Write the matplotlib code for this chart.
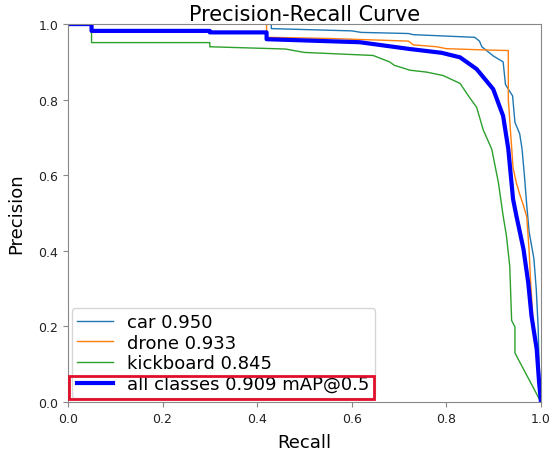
import matplotlib
matplotlib.use("Agg")
import matplotlib.pyplot as plt
from matplotlib.patches import Rectangle

# precision-recall points (recall, precision)
car_r = [0, 0.43, 0.43, 0.60, 0.62, 0.72, 0.73, 0.86, 0.87, 0.875, 0.89, 0.90, 0.92, 0.925,
         0.94, 0.945, 0.955, 0.96, 0.965, 0.97, 0.975, 0.985, 0.99, 0.994, 0.996, 1.0]
car_p = [1.0, 1.0, 0.988, 0.982, 0.978, 0.975, 0.972, 0.965, 0.955, 0.94, 0.925, 0.915, 0.9, 0.84,
         0.81, 0.74, 0.71, 0.67, 0.60, 0.52, 0.45, 0.38, 0.30, 0.20, 0.10, 0.0]

drone_r = [0, 0.42, 0.42, 0.55, 0.72, 0.73, 0.78, 0.80, 0.87, 0.931, 0.931, 0.936, 0.941,
           0.948, 0.955, 0.963, 0.97, 0.975, 0.978, 0.984, 0.99, 1.0]
drone_p = [1.0, 1.0, 0.965, 0.962, 0.955, 0.945, 0.94, 0.935, 0.932, 0.93, 0.80, 0.71, 0.62,
           0.58, 0.55, 0.52, 0.49, 0.40, 0.32, 0.20, 0.14, 0.0]

kick_r = [0, 0.05, 0.05, 0.30, 0.30, 0.46, 0.50, 0.645, 0.68, 0.69, 0.723, 0.758, 0.793, 0.829,
          0.85, 0.864, 0.878, 0.896, 0.903, 0.91, 0.92, 0.927, 0.934, 0.938, 0.945, 0.945, 1.0]
kick_p = [1.0, 1.0, 0.951, 0.951, 0.94, 0.934, 0.925, 0.917, 0.90, 0.891, 0.878, 0.873, 0.864, 0.843,
          0.804, 0.78, 0.72, 0.669, 0.625, 0.581, 0.493, 0.44, 0.36, 0.216, 0.199, 0.13, 0.0]

all_r = [0, 0.05, 0.05, 0.30, 0.30, 0.42, 0.42, 0.617, 0.723, 0.79, 0.829, 0.864, 0.899, 0.92, 0.931,
         0.941, 0.948, 0.963, 0.973, 0.98, 0.991, 0.996, 1.0]
all_p = [1.0, 1.0, 0.982, 0.982, 0.978, 0.978, 0.96, 0.952, 0.934, 0.924, 0.912, 0.881, 0.828, 0.757, 0.669,
         0.537, 0.493, 0.405, 0.317, 0.228, 0.14, 0.053, 0.0]

labels = ["car 0.950", "drone 0.933", "kickboard 0.845", "all classes 0.909 mAP@0.5"]

fig = plt.figure(figsize=(5.52, 4.56), dpi=100)
ax = fig.add_axes([0.123, 0.116, 0.857, 0.829])

ax.plot(car_r, car_p, color="#1f77b4", lw=1, label=labels[0])
ax.plot(drone_r, drone_p, color="#ff7f0e", lw=1, label=labels[1])
ax.plot(kick_r, kick_p, color="#2ca02c", lw=1, label=labels[2])
ax.plot(all_r, all_p, color="blue", lw=3, label=labels[3])

ax.set_xlim(0, 1)
ax.set_ylim(0, 1)
ax.set_xlabel("Recall", fontsize=13, labelpad=6)
ax.set_ylabel("Precision", fontsize=13, labelpad=9)
ax.set_title("Precision-Recall Curve", fontsize=15, pad=3)
ax.tick_params(labelsize=9, color="#888888", labelcolor="#222222")
for s in ax.spines.values():
    s.set_color("#888888")

leg = ax.legend(loc="lower left", fontsize=13, borderaxespad=0.2, labelspacing=0.15,
                borderpad=0.3)

# red box around the mAP entry
fig.canvas.draw()
rend = fig.canvas.get_renderer()
tb = leg.get_texts()[-1].get_window_extent(rend)
hb = leg.legend_handles[-1].get_window_extent(rend)
inv = ax.transAxes.inverted()
x0, y0 = inv.transform((hb.x0 - 8, tb.y0 - 6))
x1, y1 = inv.transform((tb.x1 + 4, tb.y1 - 1))
ax.add_patch(Rectangle((x0, y0), x1 - x0, y1 - y0, transform=ax.transAxes,
                       fill=False, edgecolor="#e0102a", lw=2, clip_on=False, zorder=10))

fig.savefig("out.png", dpi=100)
